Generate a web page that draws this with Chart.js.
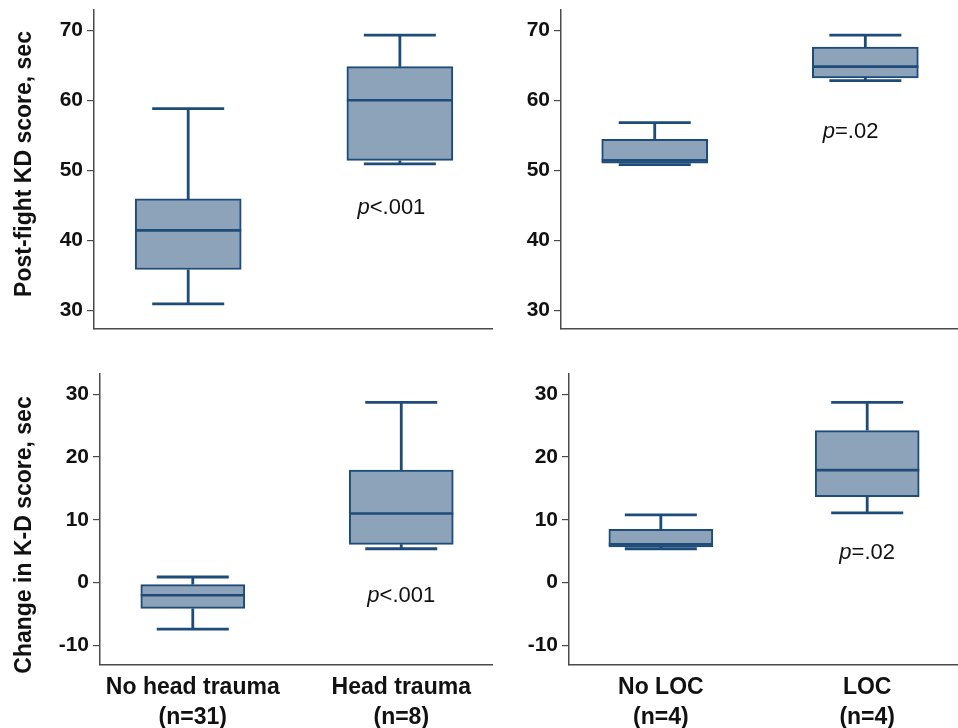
<!DOCTYPE html>
<html>
<head>
<meta charset="utf-8">
<title>K-D scores by head trauma and LOC</title>
<script src="https://cdn.jsdelivr.net/npm/chart.js@4.4.0/dist/chart.umd.min.js"></script>
<style>
  body { margin: 0; background: #fff; }
  .panel { position: absolute; }
</style>
</head>
<body>
<div class="panel" style="left:0;top:0"><canvas id="kdTrauma" width="493" height="340"></canvas></div>
<div class="panel" style="left:493px;top:0"><canvas id="kdLoc" width="465" height="340"></canvas></div>
<div class="panel" style="left:0;top:340px"><canvas id="changeTrauma" width="493" height="388"></canvas></div>
<div class="panel" style="left:493px;top:340px"><canvas id="changeLoc" width="465" height="388"></canvas></div>
<script>
// Box plots of K-D scores: head trauma vs none, LOC vs none

const traumaGroups = [['No head trauma', '(n=31)'], ['Head trauma', '(n=8)']];
const locGroups = [['No LOC', '(n=4)'], ['LOC', '(n=4)']];
const groupPositions = [1, 2];

// each box: [min, q1, median, q3, max]
const kdTraumaBoxes = [[30.9, 35.8, 41.4, 45.9, 58.8], [50.9, 51.4, 60.0, 64.8, 69.3]];
const kdLocBoxes = [[50.8, 51.0, 51.4, 54.4, 56.8], [62.8, 63.2, 64.8, 67.6, 69.3]];
const changeTraumaBoxes = [[-7.4, -4.1, -2.0, -0.3, 0.9], [5.4, 6.1, 11.0, 17.9, 28.7]];
const changeLocBoxes = [[5.4, 5.7, 6.1, 8.5, 10.8], [11.1, 13.7, 17.9, 24.2, 28.7]];

const kdTicks = [30, 40, 50, 60, 70];
const changeTicks = [-10, 0, 10, 20, 30];
const kdRange = [27.3, 72.9];
const changeRange = [-13.1, 33.2];

const pTrauma = 'p<.001';
const pLoc = 'p=.02';

const FONT = "'Liberation Sans', Arial, Helvetica, sans-serif";
const boxFill = '#8da3b9';
const boxLine = '#1e4b78';
const axisColor = '#4a4a4a';

const boxWhiskers = {
  id: 'boxWhiskers',
  beforeDatasetsDraw(chart, args, opts) {
    const ctx = chart.ctx;
    const y = chart.scales.y;
    const meta = chart.getDatasetMeta(0);
    ctx.save();
    ctx.strokeStyle = boxLine;
    ctx.lineWidth = 2.8;
    opts.boxes.forEach((b, i) => {
      const px = meta.data[i].x;
      const half = opts.capWidth / 2;
      const yMin = y.getPixelForValue(b[0]);
      const yQ1 = y.getPixelForValue(b[1]);
      const yQ3 = y.getPixelForValue(b[3]);
      const yMax = y.getPixelForValue(b[4]);
      ctx.beginPath();
      ctx.moveTo(px, yQ3); ctx.lineTo(px, yMax);
      ctx.moveTo(px - half, yMax); ctx.lineTo(px + half, yMax);
      ctx.moveTo(px, yQ1); ctx.lineTo(px, yMin);
      ctx.moveTo(px - half, yMin); ctx.lineTo(px + half, yMin);
      ctx.stroke();
    });
    ctx.restore();
  },
  afterDatasetsDraw(chart, args, opts) {
    const ctx = chart.ctx;
    const {x, y} = chart.scales;
    const meta = chart.getDatasetMeta(0);
    ctx.save();
    // medians
    ctx.strokeStyle = boxLine;
    ctx.lineWidth = 2.6;
    opts.boxes.forEach((b, i) => {
      const bar = meta.data[i];
      const ym = y.getPixelForValue(b[2]);
      ctx.beginPath();
      ctx.moveTo(bar.x - bar.width / 2, ym);
      ctx.lineTo(bar.x + bar.width / 2, ym);
      ctx.stroke();
    });
    // p value, italic p
    const cx = x.getPixelForValue(opts.pAt.x);
    const cy = y.getPixelForValue(opts.pAt.y);
    const italic = 'italic 22px ' + FONT;
    const plain = '22px ' + FONT;
    ctx.font = italic;
    const w1 = ctx.measureText(opts.pText[0]).width;
    ctx.font = plain;
    const w2 = ctx.measureText(opts.pText.slice(1)).width;
    let sx = cx - (w1 + w2) / 2;
    ctx.fillStyle = '#111';
    ctx.textBaseline = 'middle';
    ctx.textAlign = 'left';
    ctx.font = italic;
    ctx.fillText(opts.pText[0], sx, cy);
    ctx.font = plain;
    ctx.fillText(opts.pText.slice(1), sx + w1, cy);
    // side title
    if (opts.title) {
      ctx.translate(opts.title.cx, opts.title.cy);
      ctx.rotate(-Math.PI / 2);
      ctx.font = 'bold 23px ' + FONT;
      ctx.textAlign = 'center';
      ctx.fillText(opts.title.text, 0, 0);
    }
    ctx.restore();
  }
};

function makePanel(id, cfg) {
  new Chart(document.getElementById(id), {
    type: 'bar',
    data: {
      datasets: [{
        data: cfg.boxes.map((b, i) => ({x: groupPositions[i], y: [b[1], b[3]]})),
        backgroundColor: boxFill,
        borderColor: boxLine,
        borderWidth: 2,
        borderSkipped: false,
        barThickness: cfg.boxWidth
      }]
    },
    options: {
      responsive: false,
      animation: false,
      events: [],
      layout: {padding: {top: cfg.padTop, right: 0, left: 0, bottom: 0}},
      plugins: {
        legend: {display: false},
        tooltip: {enabled: false},
        boxWhiskers: {boxes: cfg.boxes, capWidth: 72, pText: cfg.pText, pAt: cfg.pAt, title: cfg.title}
      },
      scales: {
        x: {
          type: 'linear',
          offset: false,
          min: 0.555,
          max: 2.44,
          afterBuildTicks: s => { s.ticks = groupPositions.map(v => ({value: v})); },
          afterFit: s => { s.height = cfg.xHeight; s.paddingLeft = 0; s.paddingRight = 0; },
          border: {display: true, color: axisColor, width: 1.5},
          grid: {display: false, offset: false},
          ticks: {
            display: !!cfg.labels,
            color: '#111',
            padding: 0,
            maxRotation: 0,
            autoSkip: false,
            font: {family: FONT, size: 23, weight: 'bold', lineHeight: 1.3},
            callback: (v, i) => cfg.labels ? cfg.labels[i] : ''
          }
        },
        y: {
          min: cfg.range[0],
          max: cfg.range[1],
          afterBuildTicks: s => { s.ticks = cfg.ticks.map(v => ({value: v})); },
          afterFit: s => { s.width = cfg.yWidth; s.paddingTop = 0; s.paddingBottom = 0; },
          border: {display: true, color: axisColor, width: 1.5},
          grid: {drawOnChartArea: false, drawTicks: true, tickLength: 7, color: axisColor, lineWidth: 1.2},
          ticks: {color: '#111', padding: 4, font: {family: FONT, size: 21, weight: 'bold'}}
        }
      }
    },
    plugins: [boxWhiskers]
  });
}

makePanel('kdTrauma', {
  boxes: kdTraumaBoxes, ticks: kdTicks, range: kdRange, boxWidth: 106,
  yWidth: 94, xHeight: 11, padTop: 10,
  pText: pTrauma, pAt: {x: 1.96, y: 44.6},
  title: {text: 'Post-fight KD score, sec', cx: 25, cy: 164}
});
makePanel('kdLoc', {
  boxes: kdLocBoxes, ticks: kdTicks, range: kdRange, boxWidth: 106,
  yWidth: 68, xHeight: 11, padTop: 10,
  pText: pLoc, pAt: {x: 1.93, y: 55.5}
});
makePanel('changeTrauma', {
  boxes: changeTraumaBoxes, ticks: changeTicks, range: changeRange, boxWidth: 104,
  yWidth: 100, xHeight: 63, padTop: 34, labels: traumaGroups,
  pText: pTrauma, pAt: {x: 2.0, y: -2.1},
  title: {text: 'Change in K-D score, sec', cx: 25, cy: 195}
});
makePanel('changeLoc', {
  boxes: changeLocBoxes, ticks: changeTicks, range: changeRange, boxWidth: 104,
  yWidth: 76, xHeight: 63, padTop: 34, labels: locGroups,
  pText: pLoc, pAt: {x: 2.0, y: 4.7}
});
</script>
</body>
</html>
